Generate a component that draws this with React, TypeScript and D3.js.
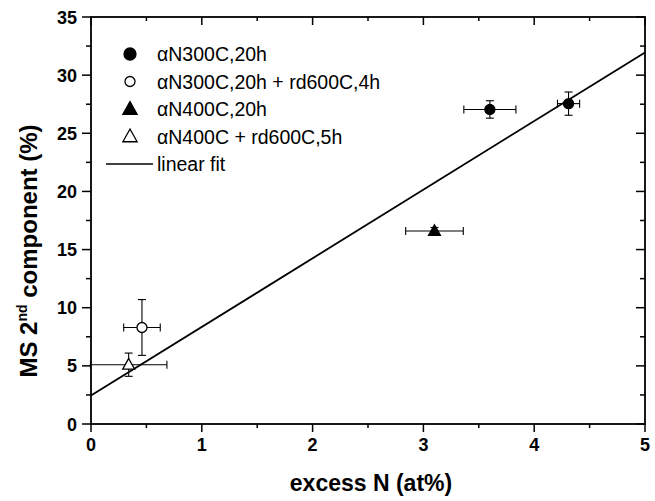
import React from "react";
import * as d3 from "d3";

const xTicks = [0, 1, 2, 3, 4, 5];
const yTicks = [0, 5, 10, 15, 20, 25, 30, 35];

const seriesNames = [
  "αN300C,20h",
  "αN300C,20h + rd600C,4h",
  "αN400C,20h",
  "αN400C + rd600C,5h",
];
const seriesSymbols = ["circle", "circle", "triangle", "triangle"];
const seriesFilled = [true, false, true, false];

// points: series index, x, y, xErr, yErr
const ptSeries = [0, 0, 1, 2, 3];
const ptX = [3.6, 4.31, 0.46, 3.1, 0.34];
const ptY = [27.05, 27.55, 8.3, 16.6, 5.1];
const ptXErr = [0.235, 0.1, 0.165, 0.26, 0.345];
const ptYErr = [0.75, 1.0, 2.4, 0.3, 1.0];

const fitIntercept = 2.45;
const fitSlope = 5.9;
const fitLabel = "linear fit";

const W = 655;
const H = 501;
const x = d3.scaleLinear().domain([0, 5]).range([91, 645]);
const y = d3.scaleLinear().domain([0, 35]).range([424, 17]);

const FONT = "'Liberation Sans', Arial, Helvetica, sans-serif";

function Marker({ kind, filled, cx, cy, size }: { kind: string; filled: boolean; cx: number; cy: number; size: number }) {
  const fill = filled ? "#000" : "#fff";
  if (kind === "circle") {
    return <circle cx={cx} cy={cy} r={size} fill={fill} stroke="#000" strokeWidth={1.3} />;
  }
  const s = size * 1.25;
  const tri = d3.line()([
    [cx, cy - s],
    [cx + s * 0.95, cy + s * 0.7],
    [cx - s * 0.95, cy + s * 0.7],
  ]) + "Z";
  return <path d={tri} fill={fill} stroke="#000" strokeWidth={1.3} />;
}

export default function App() {
  const minorX = d3.range(0, 5.01, 0.5);
  const minorY = d3.range(0, 35.01, 2.5);
  const fitPath = d3
    .line<number>()
    .x((d) => x(d))
    .y((d) => y(fitIntercept + fitSlope * d))([0, 5]);

  return (
    <svg
      width={W}
      height={H}
      style={{ position: "absolute", left: 0, top: 0, background: "#fff" }}
      fontFamily={FONT}
    >
      <rect x={x(0)} y={y(35)} width={x(5) - x(0)} height={y(0) - y(35)} fill="none" stroke="#000" strokeWidth={1.8} />

      {minorX.map((t, i) => {
        const major = Math.abs(t - Math.round(t)) < 1e-6;
        const len = major ? 8 : 4;
        return (
          <g key={"xt" + i}>
            <line x1={x(t)} x2={x(t)} y1={y(0)} y2={y(0) + len} stroke="#000" strokeWidth={1.5} />
            <line x1={x(t)} x2={x(t)} y1={y(35)} y2={y(35) + len} stroke="#000" strokeWidth={1.5} />
          </g>
        );
      })}
      {xTicks.map((t) => (
        <text key={"xl" + t} x={x(t)} y={451} textAnchor="middle" fontSize={18} fontWeight="bold">
          {t}
        </text>
      ))}

      {minorY.map((t, i) => {
        const major = Math.abs(t / 5 - Math.round(t / 5)) < 1e-6;
        const len = major ? 9 : 5;
        return (
          <g key={"yt" + i}>
            <line x1={x(0) - len} x2={x(0)} y1={y(t)} y2={y(t)} stroke="#000" strokeWidth={1.5} />
            <line x1={x(5) - len} x2={x(5)} y1={y(t)} y2={y(t)} stroke="#000" strokeWidth={1.5} />
          </g>
        );
      })}
      {yTicks.map((t) => (
        <text key={"yl" + t} x={77} y={y(t) + 6.5} textAnchor="end" fontSize={18} fontWeight="bold">
          {t}
        </text>
      ))}

      <text x={371} y={491} textAnchor="middle" fontSize={23} fontWeight="bold">
        excess N (at%)
      </text>
      <text
        transform={`translate(37, 251) rotate(-90)`}
        textAnchor="middle"
        fontSize={24}
        fontWeight="bold"
      >
        MS 2<tspan fontSize={14} dy={-10}>nd</tspan>
        <tspan dy={10}> component (%)</tspan>
      </text>

      <path d={fitPath ?? ""} stroke="#000" strokeWidth={1.8} fill="none" />

      {ptX.map((px, i) => {
        const cx = x(px);
        const cy = y(ptY[i]);
        const x0 = x(px - ptXErr[i]);
        const x1 = x(px + ptXErr[i]);
        const y0 = y(ptY[i] - ptYErr[i]);
        const y1 = y(ptY[i] + ptYErr[i]);
        const c = 4;
        const s = ptSeries[i];
        return (
          <g key={"p" + i} stroke="#000" strokeWidth={1.1}>
            <line x1={x0} x2={x1} y1={cy} y2={cy} />
            <line x1={x0} x2={x0} y1={cy - c} y2={cy + c} />
            <line x1={x1} x2={x1} y1={cy - c} y2={cy + c} />
            <line x1={cx} x2={cx} y1={y0} y2={y1} />
            <line x1={cx - c} x2={cx + c} y1={y0} y2={y0} />
            <line x1={cx - c} x2={cx + c} y1={y1} y2={y1} />
            <Marker kind={seriesSymbols[s]} filled={seriesFilled[s]} cx={cx} cy={cy} size={5} />
          </g>
        );
      })}

      {seriesNames.map((name, i) => {
        const cy = 54 + i * 27.5;
        return (
          <g key={"lg" + i}>
            <Marker kind={seriesSymbols[i]} filled={seriesFilled[i]} cx={130} cy={cy} size={i === 1 ? 5 : 6} />
            <text x={157} y={cy + 7} fontSize={19.5}>
              {name}
            </text>
          </g>
        );
      })}
      <line x1={106} x2={153} y1={164} y2={164} stroke="#000" strokeWidth={1.5} />
      <text x={157} y={171} fontSize={19.5}>
        {fitLabel}
      </text>
    </svg>
  );
}
